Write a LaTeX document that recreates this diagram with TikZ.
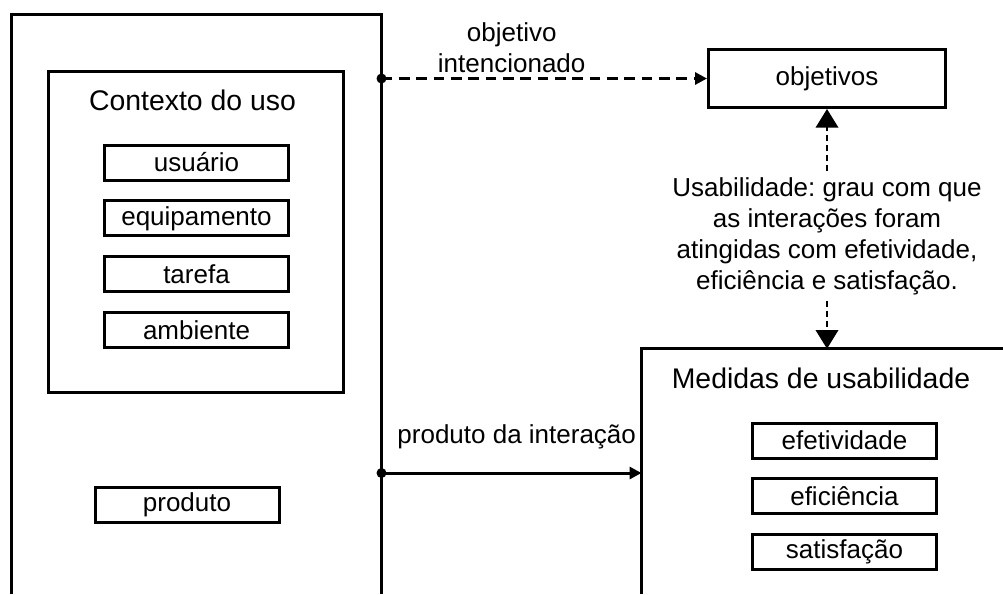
\documentclass[tikz,border=0pt]{standalone}
\usepackage{fontspec}
\setmainfont{Liberation Sans}
\usetikzlibrary{arrows.meta}
\usetikzlibrary{positioning}
\frenchspacing

\begin{document}
\begin{tikzpicture}[x=0.75pt, y=-0.75pt, line width=2.25pt,
  font=\fontsize{19.5}{23.25}\selectfont,
  caixa/.style={draw, rectangle, minimum width=138pt, minimum height=26.25pt, inner sep=0pt},
  titulo/.style={font=\fontsize{21.3}{25}\selectfont, anchor=base},
  rotulo/.style={align=center},
  ponto/.style={circle, fill, inner sep=0pt, minimum size=7.5pt},
  seta/.style={-{Triangle[length=9pt, width=9pt]}},
  setav/.style={-{Triangle[length=14pt, width=17pt]}, line width=1.1pt, dash pattern=on 4.5pt off 3pt},
  node distance=13.35pt]
  \useasboundingbox (0,0) rectangle (1003,594);

  % blocos abertos embaixo
  \draw (11.5,594) -- (11.5,14.7) -- (381.5,14.7) -- (381.5,594);
  \draw (641.5,594) -- (641.5,348.7) -- (1003,348.7);

  % contexto do uso
  \node[draw, minimum width=221.25pt, minimum height=240.75pt] (ctx) at (196,232) {};
  \node[titulo] (ctxtit) at (192.5,110) {Contexto do uso};
  \node[caixa] (usu) at (196.5,162.5) {usuário};
  \node[caixa, below=of usu] (equip) {equipamento};
  \node[caixa, below=of equip] (taref) {tarefa};
  \node[caixa, below=of taref] (amb) {ambiente};
  \node[caixa] (prod) at (187,505) {produto};

  % objetivos e medidas
  \node[draw, minimum width=177.75pt, minimum height=43.5pt] (obj) at (827,78.5) {objetivos};
  \node[rotulo] (usab) at (827,236) {Usabilidade: grau com que\\as interações foram\\atingidas com efetividade,\\eficiência e satisfação.};
  \coordinate (medtop) at (827,348.7);
  \node[titulo] (medtit) at (821,388) {Medidas de usabilidade};
  \node[caixa] (efet) at (844.5,440.5) {efetividade};
  \node[caixa, below=of efet] (efic) {eficiência};
  \node[caixa, below=of efic] (satis) {satisfação};

  \node[ponto] (p1) at (381.5,78.5) {};
  \node[ponto] (p2) at (381.5,473) {};
  \coordinate (medin) at (641.5,473);

  \draw[seta, dash pattern=on 8pt off 5pt] (p1.center) -- (obj.west)
    node[rotulo, above, pos=0.4] (objint) {objetivo\\intencionado};
  \draw[seta] (p2.center) -- (medin)
    node[pos=0.52, anchor=base, yshift=22.5pt] (prodint) {produto da interação};
  \draw[setav] (usab) -- (obj);
  \draw[setav] (usab) -- (medtop);
\end{tikzpicture}
\end{document}
